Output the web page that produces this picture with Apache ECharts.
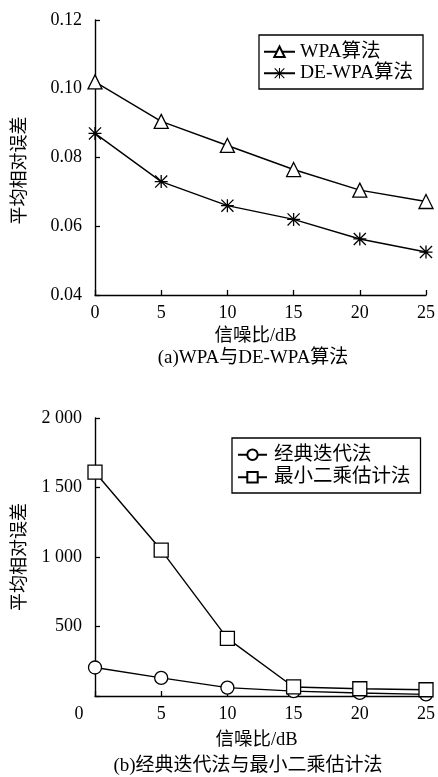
<!DOCTYPE html>
<html>
<head>
<meta charset="utf-8">
<style>
html,body{margin:0;padding:0;background:#fff;}
#c{width:438px;height:777px;}
</style>
<script src="https://cdn.jsdelivr.net/npm/echarts@6/dist/echarts.min.js"></script>
</head>
<body>
<div id="c"></div>
<script>
// ---- data ----
const snr = [0, 5, 10, 15, 20, 25];
const wpa = [0.102, 0.0905, 0.0835, 0.0765, 0.0705, 0.0672];
const deWpa = [0.087, 0.073, 0.066, 0.062, 0.0563, 0.0525];
const classic = [205, 130, 60, 35, 22, 12];
const lsq = [1610, 1050, 415, 65, 52, 45];
const namesA = ['WPA算法', 'DE-WPA算法'];
const namesB = ['经典迭代法', '最小二乘估计法'];
const yNameText = '平均相对误差';
const xNameText = '信噪比/dB';
const captionA = '(a)WPA与DE-WPA算法';
const captionB = '(b)经典迭代法与最小二乘估计法';

const FONT = '"Liberation Serif", "Noto Sans CJK SC", serif';
const star = 'path://M9 0H11V20H9Z M0 9H20V11H0Z M1.4 0L20 18.6L18.6 20L0 1.4Z M18.6 0L20 1.4L1.4 20L0 18.6Z';

const pairs = (ys) => snr.map((x, i) => [x, ys[i]]);

const axisLineStyle = {lineStyle: {color: '#000', width: 1.4}};
const tickStyle = {show: true, inside: true, length: 5, lineStyle: {color: '#000', width: 1.3}};
const labelBase = {color: '#000', fontSize: 18, fontFamily: FONT};
const nameBase = {color: '#000', fontSize: 18.5, fontFamily: FONT};
const legendText = {color: '#000', fontSize: 19.5, fontFamily: FONT};

const chart = echarts.init(document.getElementById('c'), null, {renderer: 'canvas'});

chart.setOption({
  backgroundColor: '#fff',
  animation: false,
  grid: [
    {left: 95, top: 20, width: 331, height: 275},
    {left: 95, top: 418, width: 332, height: 278}
  ],
  xAxis: [
    {
      gridIndex: 0, type: 'value', min: 0, max: 25, interval: 5,
      axisLine: axisLineStyle, axisTick: tickStyle, splitLine: {show: false},
      axisLabel: Object.assign({margin: 9}, labelBase),
      name: xNameText, nameLocation: 'middle', nameGap: 32,
      nameTextStyle: Object.assign({padding: [0, 10, 0, 0]}, nameBase)
    },
    {
      gridIndex: 1, type: 'value', min: 0, max: 25, interval: 5,
      axisLine: axisLineStyle, axisTick: tickStyle, splitLine: {show: false},
      axisLabel: Object.assign({
        margin: 9,
        formatter: (v) => v === 0 ? '{o|0}' : String(v),
        rich: {o: Object.assign({padding: [0, 32, 0, 0]}, labelBase)}
      }, labelBase),
      name: xNameText, nameLocation: 'middle', nameGap: 35,
      nameTextStyle: Object.assign({padding: [0, 8, 0, 0]}, nameBase)
    }
  ],
  yAxis: [
    {
      gridIndex: 0, type: 'value', min: 0.04, max: 0.12, interval: 0.02,
      axisLine: Object.assign({show: true}, axisLineStyle), axisTick: tickStyle, splitLine: {show: false},
      axisLabel: Object.assign({margin: 13, formatter: (v) => v.toFixed(2)}, labelBase),
      name: yNameText, nameLocation: 'middle', nameGap: 66, nameRotate: 90,
      nameTextStyle: Object.assign({padding: [0, 26, 0, 0]}, labelBase, {fontSize: 18})
    },
    {
      gridIndex: 1, type: 'value', min: 0, max: 2000, interval: 500,
      axisLine: Object.assign({show: true}, axisLineStyle), axisTick: tickStyle, splitLine: {show: false},
      axisLabel: Object.assign({
        margin: 13,
        formatter: (v) => v === 0 ? '' : (v >= 1000 ? Math.floor(v / 1000) + ' ' + String(v % 1000).padStart(3, '0') : String(v))
      }, labelBase),
      name: yNameText, nameLocation: 'middle', nameGap: 66, nameRotate: 90,
      nameTextStyle: Object.assign({}, labelBase, {fontSize: 18})
    }
  ],
  legend: [
    {
      data: namesA, orient: 'vertical', left: 259, top: 35,
      borderColor: '#000', borderWidth: 1.3, borderRadius: 0,
      padding: [7, 10, 6, 4], itemWidth: 31, itemHeight: 13, itemGap: 2,
      textStyle: legendText
    },
    {
      data: namesB, orient: 'vertical', left: 232, top: 438,
      borderColor: '#000', borderWidth: 1.3, borderRadius: 0,
      padding: [7, 10, 6, 5], itemWidth: 29, itemHeight: 13, itemGap: 3,
      textStyle: Object.assign({padding: [0, 0, 0, 2]}, legendText)
    }
  ],
  graphic: [
    {type: 'text', x: 253, y: 358, style: {text: captionA, font: '19px ' + FONT, fill: '#000', textAlign: 'center', textVerticalAlign: 'middle'}},
    {type: 'text', x: 248, y: 766, style: {text: captionB, font: '19px ' + FONT, fill: '#000', textAlign: 'center', textVerticalAlign: 'middle'}}
  ],
  series: [
    {
      name: namesA[0], type: 'line', xAxisIndex: 0, yAxisIndex: 0, data: pairs(wpa),
      symbol: 'triangle', symbolSize: 14,
      lineStyle: {color: '#000', width: 1.4},
      itemStyle: {color: '#fff', borderColor: '#000', borderWidth: 1.3}
    },
    {
      name: namesA[1], type: 'line', xAxisIndex: 0, yAxisIndex: 0, data: pairs(deWpa),
      symbol: star, symbolSize: 13,
      lineStyle: {color: '#000', width: 1.4},
      itemStyle: {color: '#000', borderWidth: 0}
    },
    {
      name: namesB[0], type: 'line', xAxisIndex: 1, yAxisIndex: 1, data: pairs(classic),
      symbol: 'circle', symbolSize: 13,
      lineStyle: {color: '#000', width: 1.4},
      itemStyle: {color: '#fff', borderColor: '#000', borderWidth: 1.3}
    },
    {
      name: namesB[1], type: 'line', xAxisIndex: 1, yAxisIndex: 1, data: pairs(lsq),
      symbol: 'rect', symbolSize: 14,
      lineStyle: {color: '#000', width: 1.4},
      itemStyle: {color: '#fff', borderColor: '#000', borderWidth: 1.3}
    }
  ]
});
</script>
</body>
</html>
